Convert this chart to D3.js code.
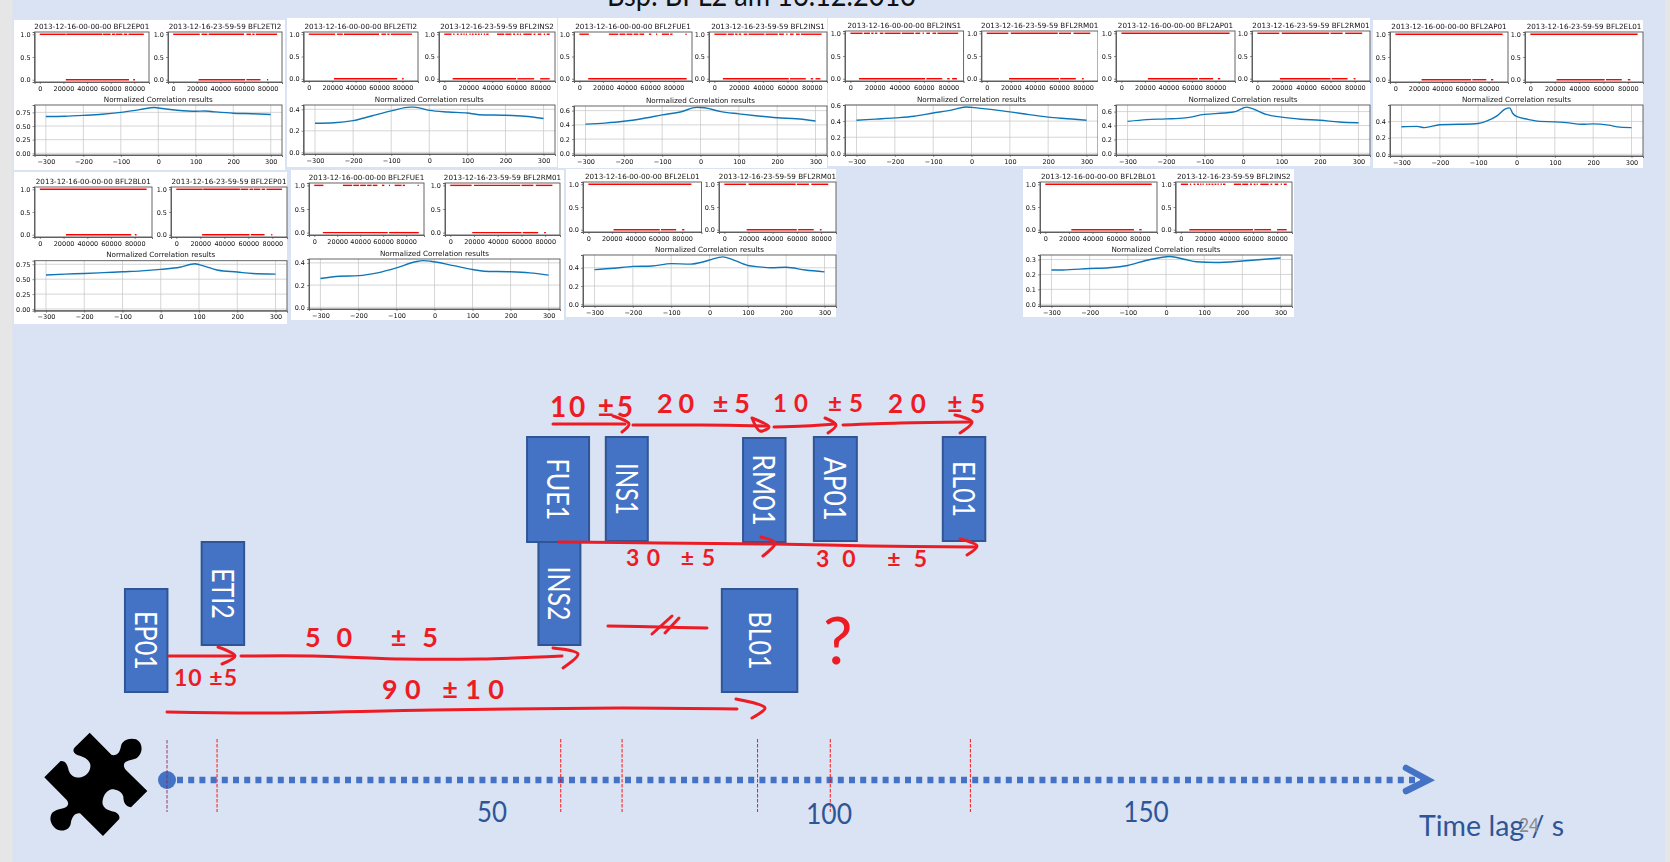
<!DOCTYPE html>
<html><head><meta charset="utf-8">
<script src="https://cdn.jsdelivr.net/npm/d3@7"></script>
<style>
html,body{margin:0;padding:0;background:#dae3f3;overflow:hidden}
svg{display:block}
.mpl text{font-family:"DejaVu Sans";fill:#111}
.mpl .domain{stroke:#555;stroke-width:.9}
.mpl .tick line{stroke:#444;stroke-width:.6}
.ppt{font-family:Lato}
</style></head><body>
<svg id="c" width="1670" height="862"></svg>
<script>
// ---------- correlation panels: pairs of sensors
const panelLeft  = ["BFL2EP01","BFL2ETI2","BFL2FUE1","BFL2INS1","BFL2AP01","BFL2AP01","BFL2BL01","BFL2FUE1","BFL2EL01","BFL2BL01"];
const panelRight = ["BFL2ETI2","BFL2INS2","BFL2INS1","BFL2RM01","BFL2RM01","BFL2EL01","BFL2EP01","BFL2RM01","BFL2RM01","BFL2INS2"];
const stampStart = "2013-12-16-00-00-00";
const stampEnd   = "2013-12-16-23-59-59";
const chartTitle = "Normalized Correlation results";

// upper (value 1) segments per sensor, seconds
const onEP01 = [[0,22000],[22400,53000],[53500,60000],[61000,64000],[64500,70000],[71000,74000],[75000,88000]];
const onETI2 = [[0,22500],[24000,29000],[30000,60000],[62000,66000],[67000,69000],[70000,88000]];
const onINS2 = [[0,6000],[7500,8500],[10500,12000],[13500,15000],[16000,17000],[18000,19000],[21000,22000],[23000,24500],[25500,27000],[28000,29500],[30500,31500],[33000,34000],[35000,37000],[44000,50000],[51000,56000],[57500,59000],[60500,62000],[63000,64000],[66000,73000],[74500,76000],[78000,81000],[83000,84000],[85500,88000]];
const onFUE1 = [[0,8000],[25000,33000],[34000,39000],[40000,45000],[46000,50000],[51000,55000],[59000,61000],[65000,66000],[70000,76000],[77000,79000],[90000,91000]];
const onINS1 = [[0,10000],[11000,16000],[17000,19000],[20000,22000],[24000,27000],[28000,41000],[42000,52000],[53000,57000],[59000,60000],[62000,65000],[67000,70000],[71000,88000]];
const onRM01 = [[0,18000],[20000,59000],[60000,70000],[72000,86000]];
const onAP01 = [[0,92000]];
const onEL01 = [[0,88000]];
const onBL01 = [[0,90000]];
const onByLeft  = [onEP01,onETI2,onFUE1,onINS1,onAP01,onAP01,onBL01,onFUE1,onEL01,onBL01];
const onByRight = [onETI2,onINS2,onINS1,onRM01,onRM01,onEL01,onEP01,onRM01,onRM01,onINS2];

// lower (value 0) segments per plot
const offLeft = [
 [[22000,75500],[79000,80500]],
 [[21500,75500],[79500,81000]],
 [[7500,91000]],
 [[7000,61000],[62000,75000],[79000,81000],[83000,87000]],
 [[22500,65000],[66000,78000],[82000,84000]],
 [[22500,65000],[66000,78000],[82000,84000]],
 [[22000,77000],[80000,81500]],
 [[7500,64000],[65000,91000]],
 [[21500,61000],[62000,75000],[80000,82000]],
 [[22000,75000],[79500,81500]]];
const offRight = [
 [[21500,61000],[62000,74000],[79500,80500]],
 [[7000,60000],[61000,75000],[80000,88000]],
 [[7000,61000],[62000,75000],[79000,81000],[83000,87000]],
 [[18500,60000],[61000,74000],[79000,80500]],
 [[18500,60000],[61000,74000],[79000,80500]],
 [[21500,61000],[62000,75000],[80000,82000]],
 [[21500,61000],[62000,73500],[79000,80000]],
 [[18500,60000],[61000,74000],[79000,80500]],
 [[18500,60000],[61000,74000],[79000,80500]],
 [[7000,60000],[61000,75000],[80000,88000]]];
const maxLeft  = [88000,88800,91000,88000,92000,92000,90000,91000,92000,90000];
const maxRight = [87800,88000,88000,88000,88000,88000,87800,88000,88000,88000];

// normalized correlation curves [lag, value]
const corr1 = [[-300,.675],[-250,.68],[-200,.695],[-150,.715],[-100,.75],[-50,.80],[-10,.84],[0,.83],[50,.79],[100,.77],[125,.775],[150,.76],[200,.735],[250,.725],[300,.71]];
const corr2 = [[-300,.27],[-250,.275],[-200,.295],[-150,.34],[-100,.385],[-50,.42],[-40,.42],[0,.39],[50,.375],[100,.365],[130,.35],[200,.345],[250,.335],[300,.315]];
const corr3 = [[-300,.41],[-250,.425],[-200,.45],[-150,.49],[-100,.54],[-50,.585],[-10,.645],[10,.64],[50,.59],[100,.555],[150,.525],[200,.50],[250,.485],[300,.455]];
const corr4 = [[-300,.41],[-250,.425],[-200,.44],[-150,.46],[-100,.50],[-50,.54],[-15,.575],[0,.57],[50,.545],[100,.515],[150,.48],[200,.45],[250,.43],[300,.41]];
const corr5 = [[-300,.46],[-250,.485],[-200,.495],[-150,.51],[-100,.56],[-50,.58],[-20,.6],[10,.665],[30,.63],[60,.56],[100,.52],[150,.49],[200,.475],[250,.45],[300,.44]];
const corr6 = [[-300,.335],[-260,.34],[-240,.325],[-200,.36],[-150,.365],[-100,.375],[-80,.40],[-50,.47],[-30,.55],[-18,.565],[-10,.50],[0,.46],[30,.425],[60,.40],[100,.395],[130,.385],[170,.365],[200,.37],[240,.355],[270,.33],[300,.325]];
const corr7 = [[-300,.57],[-250,.585],[-200,.595],[-150,.61],[-100,.625],[-50,.64],[0,.665],[50,.70],[90,.76],[100,.745],[150,.65],[200,.62],[240,.595],[300,.585]];
const corr8 = [[-300,.26],[-250,.28],[-200,.285],[-150,.31],[-100,.355],[-50,.41],[-30,.42],[-10,.415],[50,.375],[100,.34],[130,.325],[200,.32],[250,.31],[300,.29]];
const corr9 = [[-300,.38],[-250,.395],[-200,.415],[-150,.42],[-100,.445],[-50,.44],[-20,.46],[0,.485],[35,.52],[60,.49],[100,.425],[130,.41],[160,.40],[200,.405],[250,.375],[300,.355]];
const corr10 = [[-300,.23],[-270,.23],[-200,.24],[-150,.245],[-100,.26],[-50,.295],[-20,.31],[10,.32],[50,.30],[80,.285],[130,.28],[200,.29],[250,.30],[300,.31]];
const corrSeries = [corr1,corr2,corr3,corr4,corr5,corr6,corr7,corr8,corr9,corr10];
const corrTop = [.885,.44,.665,.6,.695,.6,.81,.435,.54,.33];
const corrTicks = [[0,.25,.5,.75],[0,.2,.4],[0,.2,.4,.6],[0,.2,.4,.6],[0,.2,.4,.6],[0,.2,.4],[0,.25,.5,.75],[0,.2,.4],[0,.2,.4],[0,.1,.2,.3]];
const lagTicks = [-300,-200,-100,0,100,200,300];
const xTicksSmall = [0,20000,40000,60000,80000];
const yTicksSmall = [0,.5,1];

// ---------- time axis
const axisTicks = [50,100,150];
const stationNames = ["EP01","ETI2","INS2","FUE1","INS1","RM01","AP01","EL01","BL01"];
const stationLag   = [-3.2,8.6,60,59.8,70,90.4,101,121.3,89.7];
const eventLags = [7.7,60.2,69.3,89.4,100.2,122.3];

// ---------- layout, separate from the values
const panelBox = [[14,20,271,150],[287,18,270,149],[558,18,269,150],[828,18,270,148],[1098,18,272,148],[1373,20,270,148],[14,172,273,152],[291,170,273,150],[566,169,270,148],[1023,169,271,148]];
const plotsX = [[34.6,149,168,282],[303.6,418,439,555],[574,692,709,827],[845,963.6,981.4,1098],[1116,1235,1252,1370],[1390,1508,1525,1643],[34.5,152,171,287],[309,424,445,560],[583,701.5,719,836],[1040,1157,1175.6,1292]];
const plotsY = [[32,82,105,155],[32,81,105,154],[32,81,106,155],[31,81,105,155],[31,81,105,155],[32,82,105,156],[187,237,260.7,310.7],[183,235,259,309],[182,232,255,306],[182,232,255,306]];
const boxGeom = [[589,692,42.5],[542,645,42.5],[542,645,42],[437,542,62],[437,541,42],[438,542,42.5],[437,541,43],[437,541,42.5],[589,692,75.5]];
const labelLen = [59,50.7,54,62,52,71.7,64,56,58];

const svg = d3.select("#c");
const defs = svg.append("defs");
defs.append("filter").attr("id","soft").attr("x","-2%").attr("y","-2%").attr("width","104%").attr("height","104%")
  .append("feGaussianBlur").attr("stdDeviation",.3);

svg.append("rect").attr("width",1670).attr("height",862).attr("fill","#dae3f3");
svg.append("rect").attr("width",12.5).attr("height",862).attr("fill","#e7e6e6");
svg.append("rect").attr("x",1665).attr("width",5).attr("height",862).attr("fill","#e7e6e6");

svg.append("text").attr("class","ppt").attr("x",607).attr("y",6).attr("font-size",31)
  .attr("textLength",309).attr("lengthAdjust","spacingAndGlyphs").attr("fill","#111")
  .text("Bsp: BFL2 am 16.12.2013");

// ---------- panels
function smallPlot(g,x0,x1,y0,y1,xmax,on,off,title){
  const x = d3.scaleLinear().domain([-.05*xmax,1.05*xmax]).range([x0,x1]);
  const y = d3.scaleLinear().domain([-.05,1.05]).range([y1,y0]);
  const line = (segs,v)=>g.append("g").selectAll("line").data(segs).join("line")
    .attr("x1",d=>x(d[0])).attr("x2",d=>x(d[1])).attr("y1",y(v)).attr("y2",y(v))
    .attr("stroke","#ff0000").attr("stroke-width",1.4);
  line(on,1); line(off,0);
  const ax = g.append("g").attr("transform",`translate(0,${y1})`).call(d3.axisBottom(x).tickValues(xTicksSmall).tickFormat(d3.format("d")).tickSize(2).tickPadding(2));
  const ay = g.append("g").attr("transform",`translate(${x0},0)`).call(d3.axisLeft(y).tickValues(yTicksSmall).tickFormat(d3.format(".1f")).tickSize(2).tickPadding(2));
  [ax,ay].forEach(a=>a.selectAll("text").attr("font-size",6.5));
  g.append("rect").attr("x",x0).attr("y",y0).attr("width",x1-x0).attr("height",y1-y0).attr("fill","none").attr("stroke","#555").attr("stroke-width",.9);
  g.append("text").attr("x",(x0+x1)/2).attr("y",y0-3.5).attr("text-anchor","middle").attr("font-size",7.2).text(title);
}
function corrPlot(g,x0,x1,y0,y1,series,top,ticks){
  const x = d3.scaleLinear().domain([-330,330]).range([x0,x1]);
  const y = d3.scaleLinear().domain([-top*.035,top]).range([y1,y0]);
  g.append("g").selectAll("line").data(lagTicks).join("line").attr("x1",d=>x(d)).attr("x2",d=>x(d)).attr("y1",y0).attr("y2",y1).attr("stroke","#c4c4c4").attr("stroke-width",.7);
  g.append("g").selectAll("line").data(ticks).join("line").attr("x1",x0).attr("x2",x1).attr("y1",d=>y(d)).attr("y2",d=>y(d)).attr("stroke","#c4c4c4").attr("stroke-width",.7);
  g.append("path").datum(series).attr("fill","none").attr("stroke","#1176b8").attr("stroke-width",1.4)
    .attr("d",d3.line().x(d=>x(d[0])).y(d=>y(d[1])).curve(d3.curveMonotoneX));
  const fmt = ticks.includes(.25)?d3.format(".2f"):d3.format(".1f");
  const ax = g.append("g").attr("transform",`translate(0,${y1})`).call(d3.axisBottom(x).tickValues(lagTicks).tickSize(2).tickPadding(2));
  const ay = g.append("g").attr("transform",`translate(${x0},0)`).call(d3.axisLeft(y).tickValues(ticks).tickFormat(fmt).tickSize(2).tickPadding(2));
  [ax,ay].forEach(a=>a.selectAll("text").attr("font-size",6.5));
  g.append("rect").attr("x",x0).attr("y",y0).attr("width",x1-x0).attr("height",y1-y0).attr("fill","none").attr("stroke","#555").attr("stroke-width",.9);
  g.append("text").attr("x",(x0+x1)/2).attr("y",y0-3.5).attr("text-anchor","middle").attr("font-size",7.2).text(chartTitle);
}
panelBox.forEach((b,i)=>{
  const g = svg.append("g").attr("class","mpl").attr("filter","url(#soft)");
  g.append("rect").attr("x",b[0]).attr("y",b[1]).attr("width",b[2]).attr("height",b[3]).attr("fill","#fff");
  const px = plotsX[i], py = plotsY[i];
  smallPlot(g,px[0],px[1],py[0],py[1],maxLeft[i],onByLeft[i],offLeft[i],`${stampStart} ${panelLeft[i]}`);
  smallPlot(g,px[2],px[3],py[0],py[1],maxRight[i],onByRight[i],offRight[i],`${stampEnd} ${panelRight[i]}`);
  corrPlot(g,px[0],px[3],py[2],py[3],corrSeries[i],corrTop[i],corrTicks[i]);
});

// ---------- time scale (the drawn axis is not strictly linear)
const t = d3.scaleLinear().domain([0,50,100,150]).range([167,492,829,1146]);

// station boxes
const boxes = svg.append("g").attr("class","ppt");
stationNames.forEach((n,i)=>{
  const [y0,y1,w] = boxGeom[i], cx = t(stationLag[i]);
  boxes.append("rect").attr("x",cx-w/2).attr("y",y0).attr("width",w).attr("height",y1-y0)
    .attr("fill","#4472c4").attr("stroke","#2f5597").attr("stroke-width",2);
  boxes.append("text").attr("transform",`translate(${cx-11},${(y0+y1)/2}) rotate(90)`)
    .attr("text-anchor","middle").attr("font-size",31).attr("fill","#fff")
    .attr("textLength",labelLen[i]).attr("lengthAdjust","spacingAndGlyphs").text(n);
});

// time axis
const axisY = 780;
const ax = svg.append("g");
ax.append("line").attr("x1",t(0)+10).attr("x2",1424).attr("y1",axisY).attr("y2",axisY)
  .attr("stroke","#4472c4").attr("stroke-width",6.5).attr("stroke-dasharray","6 5.2");
ax.append("path").attr("d",`M1406,768L1428,780L1406,791`).attr("fill","none").attr("stroke","#4472c4").attr("stroke-width",6.5).attr("stroke-linecap","round").attr("stroke-linejoin","miter");
ax.append("ellipse").attr("cx",t(0)).attr("cy",axisY).attr("rx",9).attr("ry",9).attr("fill","#4472c4");
ax.append("line").attr("x1",t(0)).attr("x2",t(0)).attr("y1",740).attr("y2",812).attr("stroke","#8a2a55").attr("stroke-width",.9).attr("stroke-dasharray","3.5 1.5");
ax.selectAll(".ev").data(eventLags).join("line").attr("class","ev")
  .attr("x1",d=>t(d)).attr("x2",d=>t(d)).attr("y1",739).attr("y2",812)
  .attr("stroke","#ff0000").attr("stroke-width",.9).attr("stroke-dasharray","3.5 1.5");
const tickBase = [821.7,824,821.7], tickLen = [30,46,45.5];
ax.selectAll(".tl").data(axisTicks).join("text").attr("class","tl ppt")
  .attr("x",d=>t(d)).attr("y",(d,i)=>tickBase[i]).attr("text-anchor","middle").attr("font-size",28)
  .attr("fill","#2f5597").attr("textLength",(d,i)=>tickLen[i]).attr("lengthAdjust","spacingAndGlyphs").text(d=>d);
ax.append("text").attr("class","ppt").attr("x",1419).attr("y",836).attr("font-size",28).attr("fill","#2f5597")
  .attr("textLength",145).attr("lengthAdjust","spacingAndGlyphs").text("Time lag / s");
ax.append("text").attr("class","ppt").attr("x",1519).attr("y",832).attr("font-size",19).attr("fill","#8b8b8b")
  .attr("textLength",20).attr("lengthAdjust","spacingAndGlyphs").text("24");

// puzzle piece icon
svg.append("path").attr("transform","translate(30,720) scale(.5102,.3333)").attr("fill","#000")
 .attr("d","M117,38L160,105C172,108 176,95 178,80C180,60 195,52 208,58C222,68 222,100 210,113C205,120 190,118 185,130C183,138 185,145 188,150L230,213L198,262C186,258 183,245 183,230C180,215 170,208 160,208C148,212 142,232 142,250C144,265 152,272 165,275C175,280 176,290 175,297L143,348L98,280C88,278 82,290 80,310C78,328 68,334 58,331C44,325 36,300 42,282C48,268 62,268 70,262C76,255 76,248 72,240L28,172L60,123C72,122 74,140 76,152C80,168 90,175 100,172C114,166 120,148 118,132C114,116 104,110 94,106C84,100 83,90 88,82Z");

// red pen annotations: arrows
const penStrokes = [
 [[553,424],[590,424],[625,424]],[[613,416],[629,424],[622,432]],
 [[633,425],[700,425],[767,426]],[[752,418],[769,427],[760,431],[752,418]],
 [[774,427],[805,426],[835,424]],[[825,418],[836,425],[828,433]],
 [[843,425],[900,423],[971,422]],[[955,415],[972,422],[960,433]],
 [[559,542],[660,543],[773,544],[870,546],[975,547]],[[761,537],[775,543],[763,556]],[[960,539],[977,546],[967,555]],
 [[169,656],[200,656],[233,656]],[[218,647],[235,656],[222,664]],
 [[241,656],[313,656],[400,659],[480,659],[562,656]],[[553,648],[578,654],[563,668]],
 [[167,712],[267,713],[433,710],[620,708],[737,709]],[[736,699],[765,708],[752,718]],
 [[608,626],[660,627],[707,628]],[[652,634],[672,616]],[[665,633],[679,618]]
];
const pen = d3.line().curve(d3.curveCatmullRom.alpha(.5));
svg.append("g").selectAll("path").data(penStrokes).join("path").attr("d",pen)
  .attr("fill","none").attr("stroke","#ed1c24").attr("stroke-width",3).attr("stroke-linecap","round").attr("stroke-linejoin","round");

// red pen annotations: lag estimates
const noteText = ["10 ±5","20 ±5","10 ±5","20 ±5","30 ±5","30 ±5","10 ±5","50 ±5","90 ±10","?"];
const noteX = [550,657,773,888,626,816,174,305,382,823];
const noteBase = [417,413,412,413,566,567,686,647,699,664];
const noteLen = [83,93,90,97,89,111,63,133,122,32];
const noteSize = [28,27,24,26,23,23,23,27,27,66];
const noteWeight = [700,700,700,700,700,700,700,700,700,400];
svg.append("g").attr("class","ppt").selectAll("text").data(noteText).join("text")
  .attr("x",(d,i)=>noteX[i]).attr("y",(d,i)=>noteBase[i]).attr("font-size",(d,i)=>noteSize[i])
  .attr("font-weight",(d,i)=>noteWeight[i]).attr("fill","#ed1c24").attr("textLength",(d,i)=>noteLen[i]).attr("lengthAdjust","spacing").text(d=>d);
</script>
</body></html>
